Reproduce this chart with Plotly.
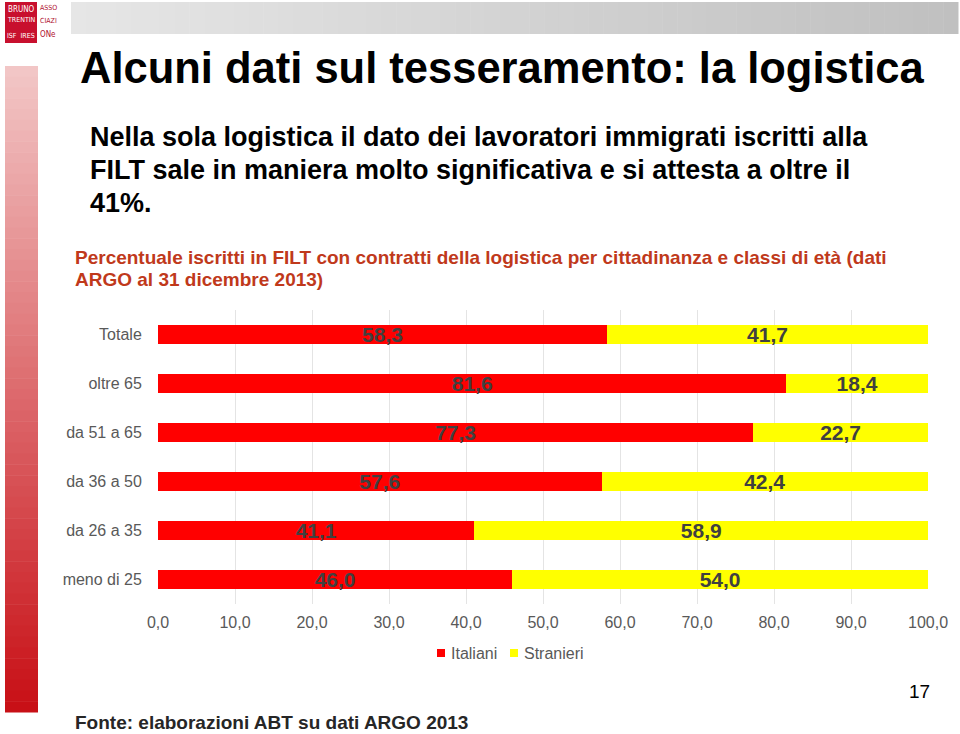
import plotly.graph_objects as go

W, H = 960, 734

categories = ["Totale", "oltre 65", "da 51 a 65", "da 36 a 50", "da 26 a 35", "meno di 25"]
italiani = [58.3, 81.6, 77.3, 57.6, 41.1, 46.0]
stranieri = [41.7, 18.4, 22.7, 42.4, 58.9, 54.0]
series_names = ["Italiani", "Stranieri"]
tick_vals = [0, 10, 20, 30, 40, 50, 60, 70, 80, 90, 100]

RED = "#ff0000"
YELLOW = "#ffff00"

def px(x):
    return x / W

def py(y):
    return 1 - y / H

FONT = "Liberation Sans, Arial, sans-serif"
NARROW = "Liberation Sans Narrow, Arial Narrow, DejaVu Sans Condensed, sans-serif"
label_font = dict(family=FONT, size=21, color="#404040")

fig = go.Figure()
for name, vals, col in [(series_names[0], italiani, RED), (series_names[1], stranieri, YELLOW)]:
    fig.add_trace(go.Bar(
        y=categories, x=vals, name=name, orientation="h",
        marker=dict(color=col, line=dict(width=0)),
        texttemplate="<b>%{x:.1f}</b>", textposition="inside", insidetextanchor="middle",
        textangle=0, constraintext="none", textfont=label_font,
        showlegend=False,
    ))

shapes = []
n = 60
x0, x1 = 71, 958
for i in range(n):
    t = i / (n - 1)
    c = int(round(230 - t * (230 - 192)))
    shapes.append(dict(type="rect", xref="paper", yref="paper",
                       x0=px(x0 + (x1 - x0) * i / n), x1=px(x0 + (x1 - x0) * (i + 1) / n + 0.5),
                       y0=py(34), y1=py(2), fillcolor=f"rgb({c},{c},{c})", line=dict(width=0),
                       layer="below"))
y0, y1 = 66, 712
for i in range(n):
    t = i / (n - 1)
    r = int(round(242 - t * (242 - 200)))
    g = int(round(198 - t * (198 - 16)))
    b = int(round(198 - t * (198 - 22)))
    shapes.append(dict(type="rect", xref="paper", yref="paper",
                       x0=px(5), x1=px(38),
                       y0=py(y0 + (y1 - y0) * (i + 1) / n + 0.5), y1=py(y0 + (y1 - y0) * i / n),
                       fillcolor=f"rgb({r},{g},{b})", line=dict(width=0), layer="below"))
shapes.append(dict(type="rect", xref="paper", yref="paper", x0=px(5), x1=px(37),
                   y0=py(43), y1=py(2), fillcolor="#c8102e", line=dict(width=0)))

annotations = []

def ann(text, x, y, size, color="#000000", bold=False, xanchor="left", yanchor="middle", family=FONT):
    annotations.append(dict(
        text=f"<b>{text}</b>" if bold else text, x=px(x), y=py(y), xref="paper", yref="paper",
        xanchor=xanchor, yanchor=yanchor, showarrow=False,
        font=dict(family=family, size=size, color=color)))

# logo
ann("BRUNO", 6, 9, 8, color="#ffffff", family=NARROW)
ann("TRENTIN", 5, 20, 7, color="#ffffff", family=NARROW)
ann("ISF  IRES", 5, 36, 7, color="#ffffff", family=NARROW)
ann("ASSO", 38, 8, 7, color="#b01030", family=NARROW)
ann("CIAZI", 38, 21, 7, color="#b01030", family=NARROW)
ann("ONe", 38, 35, 8, color="#b01030", family=NARROW)

# texts
ann("Alcuni dati sul tesseramento: la logistica", 78, 68, 43.5, bold=True)
ann("Nella sola logistica il dato dei lavoratori immigrati iscritti alla", 88, 137, 27, bold=True)
ann("FILT sale in maniera molto significativa e si attesta a oltre il", 88, 170, 27, bold=True)
ann("41%.", 88, 203, 27, bold=True)
ann("Percentuale iscritti in FILT con contratti della logistica per cittadinanza e classi di età (dati",
    73, 257, 19, color="#c0391b", bold=True)
ann("ARGO al 31 dicembre 2013)", 73, 279, 19, color="#c0391b", bold=True)
ann("17", 932, 691, 19, xanchor="right")
ann("Fonte: elaborazioni ABT su dati ARGO 2013", 73, 722, 19, color="#262626", bold=True)

# manual legend
for name, col, sx in [(series_names[0], RED, 441), (series_names[1], YELLOW, 514)]:
    shapes.append(dict(type="rect", xref="paper", yref="paper", x0=px(sx - 4), x1=px(sx + 4),
                       y0=py(657), y1=py(649), fillcolor=col, line=dict(width=0)))
    ann(name, sx + 8, 653, 16, color="#595959")

fig.update_layout(
    width=W, height=H, margin=dict(l=0, r=0, t=0, b=0, autoexpand=False),
    paper_bgcolor="#ffffff", plot_bgcolor="#ffffff",
    barmode="stack", bargap=0.61, separators=",.",
    showlegend=False,
    xaxis=dict(domain=[px(158), px(928)], range=[0, 100], tickvals=tick_vals, tickformat=".1f",
               showgrid=True, gridcolor="#e4e4e4", gridwidth=1, zeroline=False, automargin=False,
               showline=False, ticks="outside", ticklen=4, tickcolor="rgba(0,0,0,0)",
               tickfont=dict(family=FONT, size=16, color="#595959"), fixedrange=True),
    yaxis=dict(domain=[py(604), py(310)], categoryorder="array", categoryarray=categories,
               autorange="reversed", showgrid=False, zeroline=False, showline=False, automargin=False,
               ticks="outside", ticklen=12, tickcolor="rgba(0,0,0,0)",
               tickfont=dict(family=FONT, size=16, color="#595959"), fixedrange=True),
    shapes=shapes, annotations=annotations,
)

fig.write_html("out.html", config={"responsive": False, "displayModeBar": False},
               post_script="document.body.style.margin='0';document.body.style.overflow='hidden';")
